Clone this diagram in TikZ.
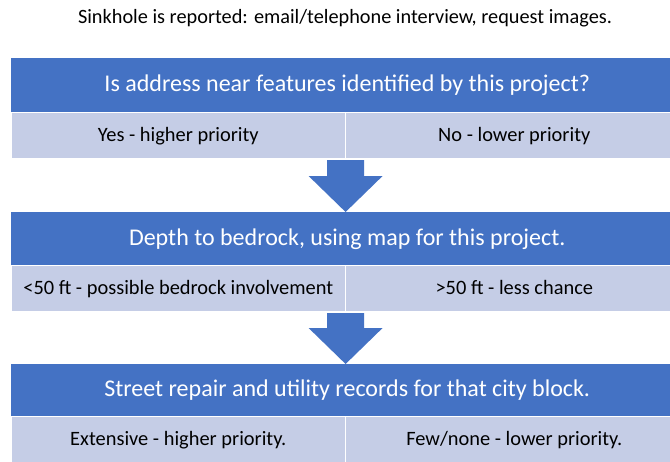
\documentclass[tikz,border=0pt]{standalone}
\usepackage{fontspec}
\setmainfont{Carlito}
\usepackage{tikz}
\usetikzlibrary{calc,positioning}

\definecolor{hdblue}{RGB}{68,114,196}
\definecolor{cellblue}{RGB}{197,205,230}

% block arrow from the divider of one row down to the next header
\newcommand{\blockdown}[2]{%
    \fill[blockarrow] ($(#1.south east)+(-18.5,1.5)$) -- ($(#1.south east)+(18.5,1.5)$)
        -- ($(#1.south east |- #2.north)+(18.5,-36)$) -- ($(#1.south east |- #2.north)+(37,-36)$)
        -- (#1.south east |- #2.north)
        -- ($(#1.south east |- #2.north)+(-37,-36)$) -- ($(#1.south east |- #2.north)+(-18.5,-36)$) -- cycle;
}

\begin{document}
\begin{tikzpicture}[x=1pt, y=-1pt,
    capt/.style={font=\fontsize{20.3}{24}\selectfont, inner sep=0},
    head/.style={fill=hdblue, text=white, font=\fontsize{24}{28}\selectfont,
        text height=13.4pt, text depth=0pt,
        minimum width=672, inner sep=0, anchor=north west},
    cell/.style={fill=cellblue, draw=white, line width=0.6pt, font=\fontsize{20.4}{24}\selectfont,
        text height=13pt, text depth=0pt,
        minimum height=46, inner sep=0, anchor=north west},
    blockarrow/.style={fill=hdblue}]
    \useasboundingbox[fill=white] (0,0) rectangle (670,461);

    % Caption
    \node[capt] (report) at (345,18) {Sinkhole is reported: email/telephone interview, request images.};

    % Step 1
    \node[head, minimum height=54] (near) at (11,58) {Is address near features identified by this project?};
    \node[cell, minimum width=334] (nearyes) at (11,112) {Yes - higher priority};
    \node[cell, minimum width=338] (nearno) at (345,112) {No - lower priority};

    % Step 2
    \node[head, minimum height=53] (depth) at (11,212) {Depth to bedrock, using map for this project.};
    \node[cell, minimum width=334] (depthlow) at (11,265) {<50 ft - possible bedrock involvement};
    \node[cell, minimum width=338] (depthhigh) at (345,265) {>50 ft - less chance};

    % Step 3
    \node[head, minimum height=52] (street) at (11,364) {Street repair and utility records for that city block.};
    \node[cell, minimum width=334] (streetyes) at (11,416) {Extensive - higher priority.};
    \node[cell, minimum width=338] (streetno) at (345,416) {Few/none - lower priority.};

    % Arrows between steps
    \blockdown{nearyes}{depth}
    \blockdown{depthlow}{street}
\end{tikzpicture}
\end{document}
